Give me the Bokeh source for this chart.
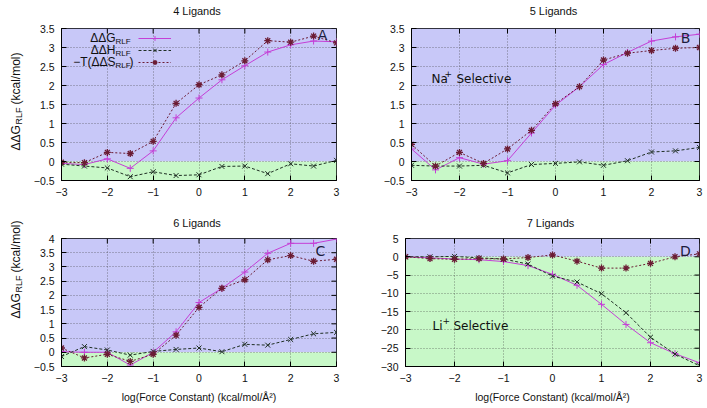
import math
from bokeh.plotting import figure
from bokeh.layouts import column, row
from bokeh.models import (Range1d, FixedTicker, BoxAnnotation, Label,
                          Legend, LegendItem, CustomJSTickFormatter)
from bokeh.embed import file_html
from bokeh.resources import INLINE

# ---------------- data ----------------
log_force = [-3, -2.5, -2, -1.5, -1, -0.5, 0, 0.5, 1, 1.5, 2, 2.5, 3]

dG_4 = [-0.05, -0.08, 0.07, -0.18, 0.28, 1.15, 1.67, 2.15, 2.52, 2.88, 3.07, 3.17, 3.15]
dH_4 = [-0.07, -0.12, -0.17, -0.40, -0.27, -0.37, -0.35, -0.13, -0.12, -0.32, -0.06, -0.12, 0.03]
TdS_4 = [-0.02, -0.03, 0.24, 0.21, 0.53, 1.53, 2.02, 2.28, 2.65, 3.18, 3.14, 3.30, 3.12]

dG_5 = [0.33, -0.22, 0.10, -0.07, 0.02, 0.75, 1.48, 1.97, 2.55, 2.87, 3.17, 3.28, 3.35]
dH_5 = [-0.10, -0.12, -0.12, -0.10, -0.30, -0.08, -0.05, -0.01, -0.10, 0.02, 0.25, 0.28, 0.37]
TdS_5 = [0.45, -0.12, 0.24, -0.05, 0.33, 0.82, 1.52, 1.97, 2.67, 2.85, 2.92, 2.98, 3.00]

dG_6 = [0.02, 0.0, 0.0, -0.45, 0.0, 0.72, 1.75, 2.25, 2.82, 3.48, 3.83, 3.83, 3.98]
dH_6 = [-0.15, 0.20, 0.08, -0.10, 0.03, 0.10, 0.15, 0.02, 0.28, 0.25, 0.45, 0.65, 0.70]
TdS_6 = [0.15, -0.20, -0.07, -0.32, -0.07, 0.60, 1.58, 2.25, 2.55, 3.25, 3.40, 3.20, 3.27]

dG_7 = [0.0, -0.3, -0.6, -0.8, -1.3, -2.4, -4.8, -7.8, -13.0, -18.5, -23.5, -26.5, -29.0]
dH_7 = [0.0, 0.0, 0.1, -0.3, -0.6, -2.0, -5.3, -6.9, -10.1, -15.3, -22.0, -26.6, -29.8]
TdS_7 = [0.0, -0.5, -0.7, -0.5, -0.6, -0.2, 0.5, -1.2, -3.1, -3.1, -1.8, 0.0, 0.8]

x_ticks = [-3, -2, -1, 0, 1, 2, 3]
y_ticks_45 = [-0.5, 0, 0.5, 1, 1.5, 2, 2.5, 3, 3.5]
y_ticks_6 = [-0.5, 0, 0.5, 1, 1.5, 2, 2.5, 3, 3.5, 4]
y_ticks_7 = [-30, -25, -20, -15, -10, -5, 0, 5]

titles = ["4 Ligands", "5 Ligands", "6 Ligands", "7 Ligands"]
x_label = "log(Force Constant) (kcal/mol/Å²)"

# ---------------- styles ----------------
G_COLOR = "#c43fd6"
H_COLOR = "#1f2f24"
S_COLOR = "#6b1c34"
BLUE_BG = "#c8c8f8"
GREEN_BG = "#c8f8c8"
FONT = "Liberation Sans"
FONT2 = "DejaVu Sans"
TICK_FS = "10.5px"
PAGE_W = 705
LAB_W = 30

minus_fmt = CustomJSTickFormatter(code="return String(tick).replace('-', '\u2212');")


class Frame:
    """Frame position in page pixels, used only to place annotations."""
    def __init__(self, fx0, fx1, fy0, fy1, yr):
        self.fx0, self.fx1, self.fy0, self.fy1 = fx0, fx1, fy0, fy1
        self.yr = yr

    def x(self, px):
        return -3 + (px - self.fx0) / (self.fx1 - self.fx0) * 6.0

    def y(self, py):
        y0, y1 = self.yr
        return y1 - (py - self.fy0) / (self.fy1 - self.fy0) * (y1 - y0)


def make_panel(fr, yticks, borders, xlab, g, h, s):
    left, right, top, bottom = borders
    p = figure(frame_width=fr.fx1 - fr.fx0, frame_height=fr.fy1 - fr.fy0,
               min_border_left=left, min_border_right=right,
               min_border_top=top, min_border_bottom=bottom, title=None,
               x_range=Range1d(-3, 3), y_range=Range1d(*fr.yr),
               output_backend="svg", toolbar_location=None, tools="")
    p.outline_line_color = "black"
    p.outline_line_alpha = 1
    p.background_fill_color = "white"
    p.border_fill_color = "white"

    xt = FixedTicker(ticks=x_ticks)
    yt = FixedTicker(ticks=yticks)

    for ax, tk in ((p.xaxis[0], xt), (p.yaxis[0], yt)):
        ax.ticker = tk
        ax.formatter = minus_fmt
        ax.major_tick_in = 5
        ax.major_tick_out = 0
        ax.minor_tick_line_color = None
        ax.major_label_text_font = FONT
        ax.major_label_text_font_size = TICK_FS
        ax.major_label_text_color = "#111111"
        ax.major_label_standoff = 7
        ax.axis_line_color = "black"
        ax.major_tick_line_color = "black"
    if xlab:
        p.xaxis.axis_label = xlab
        p.xaxis.axis_label_text_font = FONT
        p.xaxis.axis_label_text_font_size = "10.5px"
        p.xaxis.axis_label_text_font_style = "normal"
        p.xaxis.axis_label_standoff = 6
        p.xaxis.axis_label_text_color = "#111111"

    for gr, tk in ((p.xgrid[0], xt), (p.ygrid[0], yt)):
        gr.ticker = tk
        gr.grid_line_color = "#404040"
        gr.grid_line_alpha = 0.6
        gr.grid_line_dash = "1 2"

    p.add_layout(BoxAnnotation(bottom=0, fill_color=BLUE_BG, fill_alpha=1,
                               line_alpha=0, level="image"))
    p.add_layout(BoxAnnotation(top=0, fill_color=GREEN_BG, fill_alpha=1,
                               line_alpha=0, level="image"))

    # mirrored inward ticks on the top and right edges
    y0, y1 = fr.yr
    tdy = 5 * (y1 - y0) / (fr.fy1 - fr.fy0)
    tdx = 5 * 6.0 / (fr.fx1 - fr.fx0)
    p.segment(x0=x_ticks, x1=x_ticks, y0=[y1] * len(x_ticks),
              y1=[y1 - tdy] * len(x_ticks), line_color="black", line_width=1)
    p.segment(x0=[3] * len(yticks), x1=[3 - tdx] * len(yticks), y0=yticks,
              y1=yticks, line_color="black", line_width=1)

    lg = p.line(log_force, g, line_color=G_COLOR, line_width=1)
    sg = p.scatter(log_force, g, marker="cross", size=7, line_color=G_COLOR, line_width=1)
    lh = p.line(log_force, h, line_color=H_COLOR, line_width=1, line_dash="3 2")
    sh = p.scatter(log_force, h, marker="x", size=7, line_color=H_COLOR, line_width=1)
    ls = p.line(log_force, s, line_color=S_COLOR, line_width=1, line_dash="2 2")
    ss = p.scatter(log_force, s, marker="asterisk", size=7, line_color=S_COLOR, line_width=1.3)
    return p, (lg, sg, lh, sh, ls, ss)


def add_label(p, x, y, text, size, font=FONT, align="left", baseline="middle",
              angle=0.0, color="#111111"):
    p.add_layout(Label(x=x, y=y, text=text, text_font=font, text_font_size=size,
                       text_align=align, text_baseline=baseline, angle=angle,
                       text_color=color))


def blank_fig(width, height, xleft, ytop):
    """Blank figure whose data coordinates are page pixels (for titles)."""
    f = figure(frame_width=width, frame_height=height, min_border=0, title=None,
               x_range=Range1d(xleft, xleft + width), y_range=Range1d(ytop + height, ytop),
               x_axis_type=None, y_axis_type=None,
               output_backend="svg", toolbar_location=None, tools="")
    f.outline_line_color = None
    f.background_fill_color = "white"
    f.border_fill_color = "white"
    return f


def label_column(height, ytop, py_start):
    f = blank_fig(LAB_W, height, 0, ytop)
    ang = math.pi / 2
    cx = 15
    add_label(f, cx, py_start, "ΔΔG", "12px", angle=ang)
    add_label(f, cx + 3, py_start - 26, "RLF", "9px", angle=ang)
    add_label(f, cx, py_start - 46, "(kcal/mol)", "12px", angle=ang)
    return f


def title_strip(height, ytop, texts_at):
    f = blank_fig(PAGE_W - LAB_W, height, LAB_W, ytop)
    for text, cx, cy in texts_at:
        add_label(f, cx, cy, text, "11px", align="center")
    return f


frA = Frame(59, 334, 28, 180, (-0.5, 3.5))
frB = Frame(409, 697, 28, 180, (-0.5, 3.5))
frC = Frame(59, 334, 238, 366, (-0.5, 4))
frD = Frame(403, 697, 238, 366, (-30, 5))

# title strips occupy y 0..20 and 205..230; panels below them
pA, rA = make_panel(frA, y_ticks_45, (29, 19, 8, 25), None, dG_4, dH_4, TdS_4)
pB, rB = make_panel(frB, y_ticks_45, (56, 8, 8, 25), None, dG_5, dH_5, TdS_5)
pC, rC = make_panel(frC, y_ticks_6, (29, 19, 8, 38), x_label, dG_6, dH_6, TdS_6)
pD, rD = make_panel(frD, y_ticks_7, (50, 8, 8, 38), x_label, dG_7, dH_7, TdS_7)

# legend (panel A)
lg, sg, lh, sh, ls, ss = rA
legend = Legend(items=[LegendItem(label=" ", renderers=[lg, sg]),
                       LegendItem(label=" ", renderers=[lh, sh]),
                       LegendItem(label=" ", renderers=[ls, ss])],
                location=(77, 112), glyph_width=33, glyph_height=12, label_height=12,
                label_width=1, spacing=0, padding=0, margin=0, label_standoff=0,
                label_text_font_size="4px", border_line_alpha=0, background_fill_alpha=0)
pA.add_layout(legend)
rows_py = [37.7, 49.3, 61.7]
for py, main, tail in ((rows_py[0], "ΔΔG", None), (rows_py[1], "ΔΔH", None),
                       (rows_py[2], "−T(ΔΔS", ")")):
    add_label(pA, frA.x(113), frA.y(py), main, "12px", align="right")
    add_label(pA, frA.x(113), frA.y(py + 3.5), "RLF", "8px", align="left")
    if tail:
        add_label(pA, frA.x(127), frA.y(py), tail, "12px", align="left")

# panel letters
for p, fr, letter, (px, py) in ((pA, frA, "A", (320, 34)), (pB, frB, "B", (683, 37)),
                                (pC, frC, "C", (318, 250)), (pD, frD, "D", (683, 250))):
    add_label(p, fr.x(px), fr.y(py), letter, "14px", font=FONT2, align="center",
              color="#1c1c3c")

# selectivity annotations
add_label(pB, frB.x(429), frB.y(78), "Na", "12px", font=FONT2, baseline="alphabetic")
add_label(pB, frB.x(442), frB.y(73), "+", "9px", font=FONT2, baseline="alphabetic")
add_label(pB, frB.x(454), frB.y(78), "Selective", "12px", font=FONT2, baseline="alphabetic")
add_label(pD, frD.x(430), frD.y(325), "Li", "12px", font=FONT2, baseline="alphabetic")
add_label(pD, frD.x(440), frD.y(320), "+", "9px", font=FONT2, baseline="alphabetic")
add_label(pD, frD.x(451), frD.y(325), "Selective", "12px", font=FONT2, baseline="alphabetic")

strip1 = title_strip(20, 0, [(titles[0], (frA.fx0 + frA.fx1) / 2, 10),
                             (titles[1], (frB.fx0 + frB.fx1) / 2, 10)])
strip2 = title_strip(25, 205, [(titles[2], (frC.fx0 + frC.fx1) / 2, 222),
                               (titles[3], (frD.fx0 + frD.fx1) / 2, 222)])
labA = label_column(205, 0, 150)
labC = label_column(199, 205, 318)

layout = column(row(labA, column(strip1, row(pA, pB))),
                row(labC, column(strip2, row(pC, pD))))
open("out.html", "w").write(file_html(layout, INLINE))
